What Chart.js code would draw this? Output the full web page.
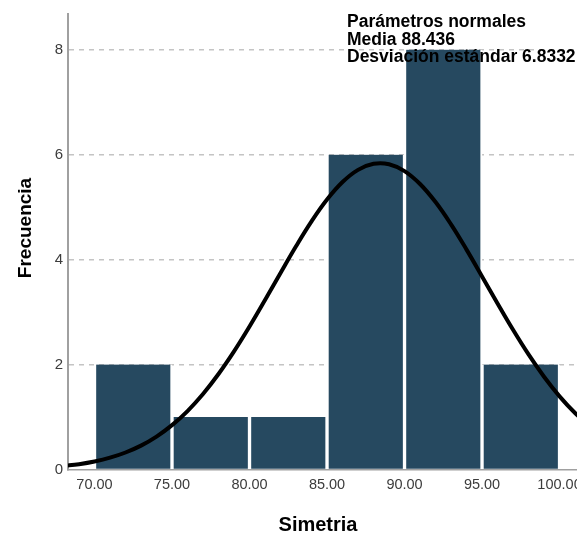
<!DOCTYPE html>
<html>
<head>
<meta charset="utf-8">
<script src="https://cdn.jsdelivr.net/npm/chart.js@4.4.1/dist/chart.umd.min.js"></script>
<style>
html,body{margin:0;padding:0;overflow:hidden;background:#fff;}
#wrap{width:620px;height:536px;position:relative;}
</style>
</head>
<body>
<div id="wrap"><canvas id="c" width="620" height="536"></canvas></div>
<script>
// ---- data ----
const binCenters = [72.5, 77.5, 82.5, 87.5, 92.5, 97.5];
const binCounts  = [2, 1, 1, 6, 8, 2];
const curveX = [68,69,70,71,72,73,74,75,76,77,78,79,80,81,82,83,84,85,86,87,88,89,90,91,92,93,94,95,96,97,98,99,100,101,102,103,104];
const curveY = [0.067,0.102,0.153,0.225,0.324,0.455,0.627,0.845,1.114,1.439,1.819,2.250,2.724,3.229,3.746,4.254,4.729,5.145,5.478,5.710,5.826,5.818,5.687,5.441,5.096,4.671,4.190,3.680,3.164,2.662,2.192,1.767,1.394,1.077,0.814,0.602,0.436];
const xTicks = [70, 75, 80, 85, 90, 95, 100];
const yTicks = [0, 2, 4, 6, 8];
const xTitle = 'Simetria';
const yTitle = 'Frecuencia';
const infoLines = ['Parámetros normales', 'Media 88.436', 'Desviación estándar 6.8332'];

const FONT = '"Liberation Sans", Arial, sans-serif';

const textPlugin = {
  id: 'texts',
  afterDraw(chart) {
    const ctx = chart.ctx;
    ctx.save();
    ctx.fillStyle = '#000';
    ctx.font = 'bold 20px ' + FONT;
    ctx.textAlign = 'center';
    ctx.textBaseline = 'alphabetic';
    ctx.fillText(xTitle, 318, 531);
    ctx.save();
    ctx.translate(31, 228);
    ctx.rotate(-Math.PI / 2);
    ctx.font = 'bold 19px ' + FONT;
    ctx.fillText(yTitle, 0, 0);
    ctx.restore();
    ctx.font = 'bold 17.5px ' + FONT;
    ctx.textAlign = 'left';
    const base = [27, 44.5, 62];
    infoLines.forEach((t, i) => ctx.fillText(t, 347, base[i]));
    ctx.restore();
  }
};

new Chart(document.getElementById('c'), {
  type: 'bar',
  data: {
    datasets: [
      {
        type: 'line',
        data: curveX.map((x, i) => ({x: x, y: curveY[i]})),
        borderColor: '#000',
        borderWidth: 4,
        pointRadius: 0,
        tension: 0.4,
        fill: false,
        order: 0
      },
      {
        type: 'bar',
        data: binCenters.map((x, i) => ({x: x, y: binCounts[i]})),
        backgroundColor: '#264960',
        borderColor: '#ffffff',
        borderWidth: {left: 2, right: 2, top: 0, bottom: 0},
        borderSkipped: false,
        barPercentage: 1,
        categoryPercentage: 1,
        grouped: false,
        order: 1
      }
    ]
  },
  options: {
    responsive: false,
    animation: false,
    events: [],
    layout: {padding: {top: 12, left: 0, right: 0, bottom: 0}},
    plugins: {legend: {display: false}, tooltip: {enabled: false}},
    scales: {
      x: {
        type: 'linear',
        min: 68.29,
        max: 103.9,
        offset: false,
        afterBuildTicks: s => { s.ticks = xTicks.map(v => ({value: v})); },
        afterFit: s => { s.height = 66.5; },
        grid: {display: false, drawTicks: false},
        border: {display: true, color: '#a0a0a0', width: 1.5},
        ticks: {
          padding: 7,
          color: '#3c3c3c',
          font: {family: FONT, size: 14.5},
          maxRotation: 0,
          autoSkip: false,
          callback: v => v.toFixed(2)
        }
      },
      y: {
        min: 0,
        max: 8.68,
        afterBuildTicks: s => { s.ticks = yTicks.map(v => ({value: v})); },
        afterFit: s => { s.width = 68; },
        grid: {
          drawTicks: false,
          color: c => (c.tick && c.tick.value === 0) ? 'rgba(0,0,0,0)' : '#c4c4c4',
          lineWidth: 1.5
        },
        border: {display: true, color: '#a0a0a0', width: 2, dash: [5, 5]},
        ticks: {
          padding: 5,
          color: '#3c3c3c',
          font: {family: FONT, size: 15}
        }
      }
    }
  },
  plugins: [textPlugin]
});
</script>
</body>
</html>
